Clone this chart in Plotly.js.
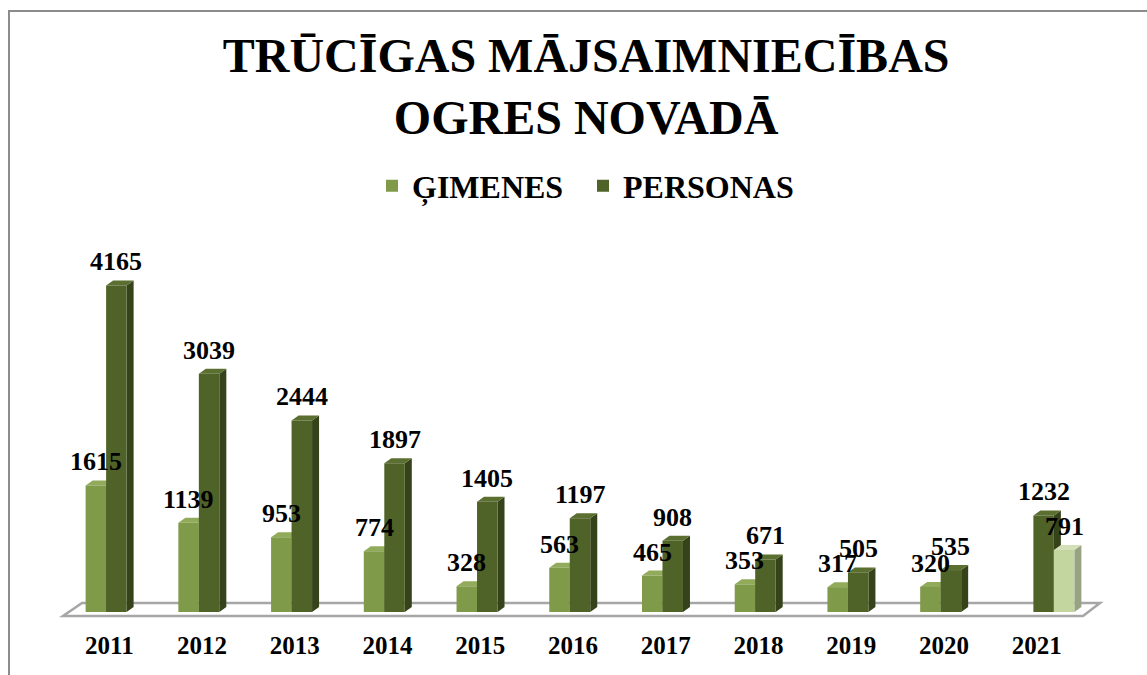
<!DOCTYPE html>
<html>
<head>
<meta charset="utf-8">
<script src="https://cdn.plot.ly/plotly-3.0.1.min.js"></script>
<style>
  html, body { margin: 0; padding: 0; background: #fff; overflow: hidden; }
  #wrap { position: relative; width: 1147px; height: 675px; }
  #chart { position: absolute; left: 0; top: 0; width: 1147px; height: 675px; }
  #frame { position: absolute; left: 8px; top: 10px; width: 1200px; height: 700px;
           border-left: 2px solid #8c8c8c; border-top: 2px solid #8c8c8c; pointer-events: none; }
</style>
</head>
<body>
<div id="wrap">
  <div id="chart"></div>
  <div id="frame"></div>
</div>
<script>
// ---- data ----
const years = ['2011','2012','2013','2014','2015','2016','2017','2018','2019','2020','2021'];
const gimenes = [1615, 1139, 953, 774, 328, 563, 465, 353, 317, 320, null];
const personas = [4165, 3039, 2444, 1897, 1405, 1197, 908, 671, 505, 535, 1232];
const gimenes2021 = [null, null, null, null, null, null, null, null, null, null, 791];

// ---- styles ----
const FONT = 'Liberation Serif';
const W = 1147, H = 675;
const M = {l: 70, r: 57, t: 220, b: 63};
const plotW = W - M.l - M.r, plotH = H - M.t - M.b;
const YMAX = 5000;
const BARGAP = 0.337;
const nSeries = 3;
const slotW = (1 - BARGAP) / nSeries;

const series = [
  {name: 'ĢIMENES', values: gimenes, front: '#7f9a48', top: '#91ab5b', side: '#5f7530', legend: true},
  {name: 'PERSONAS', values: personas, front: '#4f6228', top: '#5b6f30', side: '#36431a', legend: true},
  {name: 'ĢIMENES 2021', values: gimenes2021, front: '#c4d6a0', top: '#d3e0b8', side: '#97a383', legend: false}
];

const xIdx = years.map((_, i) => i);

// pixel depth of 3D effect converted to data units through the axis scales
const depthX = 7 / (plotW / years.length);
const depthY = 5 / (plotH / YMAX);

const traces = series.map(s => ({
  type: 'bar',
  name: s.name,
  x: xIdx,
  y: s.values,
  marker: {color: s.front, line: {width: 0}},
  showlegend: s.legend,
  hoverinfo: 'x+y'
}));

const shapes = [];
const annotations = [];

// floor (decoration) in paper coordinates
function px2paperX(px) { return (px - M.l) / plotW; }
function px2paperY(py) { return (H - M.b - py) / plotH; }
const floor = [[63, 616], [1083, 616], [1100, 603], [82, 603]];
shapes.push({
  type: 'path', xref: 'paper', yref: 'paper', layer: 'below',
  path: 'M' + floor.map(p => px2paperX(p[0]).toFixed(5) + ',' + px2paperY(p[1]).toFixed(5)).join('L') + 'Z',
  line: {color: '#a6a6a6', width: 2.5}, fillcolor: '#ffffff'
});

series.forEach((s, k) => {
  s.values.forEach((v, i) => {
    if (v === null || v === undefined) return;
    const xc = i + (k - (nSeries - 1) / 2) * slotW;
    const xl = xc - slotW / 2, xr = xc + slotW / 2;
    // right side face
    shapes.push({
      type: 'path', xref: 'x', yref: 'y', layer: 'below',
      path: `M${xr},0 L${xr},${v} L${xr + depthX},${v + depthY} L${xr + depthX},${depthY} Z`,
      fillcolor: s.side, line: {width: 0}
    });
    // top face
    shapes.push({
      type: 'path', xref: 'x', yref: 'y', layer: 'below',
      path: `M${xl},${v} L${xr},${v} L${xr + depthX},${v + depthY} L${xl + depthX},${v + depthY} Z`,
      fillcolor: s.top, line: {width: 0}
    });
    annotations.push({
      x: xc, y: v + depthY, xref: 'x', yref: 'y',
      text: String(v), showarrow: false,
      yanchor: 'bottom', xanchor: 'center', yshift: 2,
      font: {family: FONT, size: 26, color: '#000', weight: 700}
    });
  });
});

const layout = {
  width: W, height: H,
  margin: M,
  paper_bgcolor: '#ffffff',
  plot_bgcolor: 'rgba(0,0,0,0)',
  font: {family: FONT, color: '#000', weight: 700},
  title: {
    text: 'TRŪCĪGAS MĀJSAIMNIECĪBAS<br>OGRES NOVADĀ',
    font: {family: FONT, size: 48, color: '#000', weight: 700},
    x: 0.511, xanchor: 'center',
    y: 1 - 72 / H, yanchor: 'top', yref: 'container'
  },
  barmode: 'group',
  bargap: BARGAP,
  bargroupgap: 0,
  showlegend: true,
  legend: {
    orientation: 'h',
    xref: 'container', yref: 'container',
    x: 372 / W, xanchor: 'left',
    y: 1 - 186 / H, yanchor: 'middle',
    entrywidth: 166, entrywidthmode: 'pixels',
    font: {family: FONT, size: 32, color: '#000', weight: 700},
    bgcolor: 'rgba(0,0,0,0)'
  },
  xaxis: {
    range: [-0.5, years.length - 0.5],
    tickmode: 'array', tickvals: xIdx, ticktext: years,
    tickfont: {family: FONT, size: 25, color: '#000', weight: 700},
    ticks: 'outside', ticklen: 11, tickcolor: 'rgba(0,0,0,0)',
    ticklabelshift: -7,
    showgrid: false, zeroline: false, showline: false, fixedrange: true
  },
  yaxis: {
    range: [0, YMAX],
    visible: false, showgrid: false, zeroline: false, fixedrange: true
  },
  shapes: shapes,
  annotations: annotations
};

Plotly.newPlot('chart', traces, layout, {staticPlot: true, displayModeBar: false});
</script>
</body>
</html>
